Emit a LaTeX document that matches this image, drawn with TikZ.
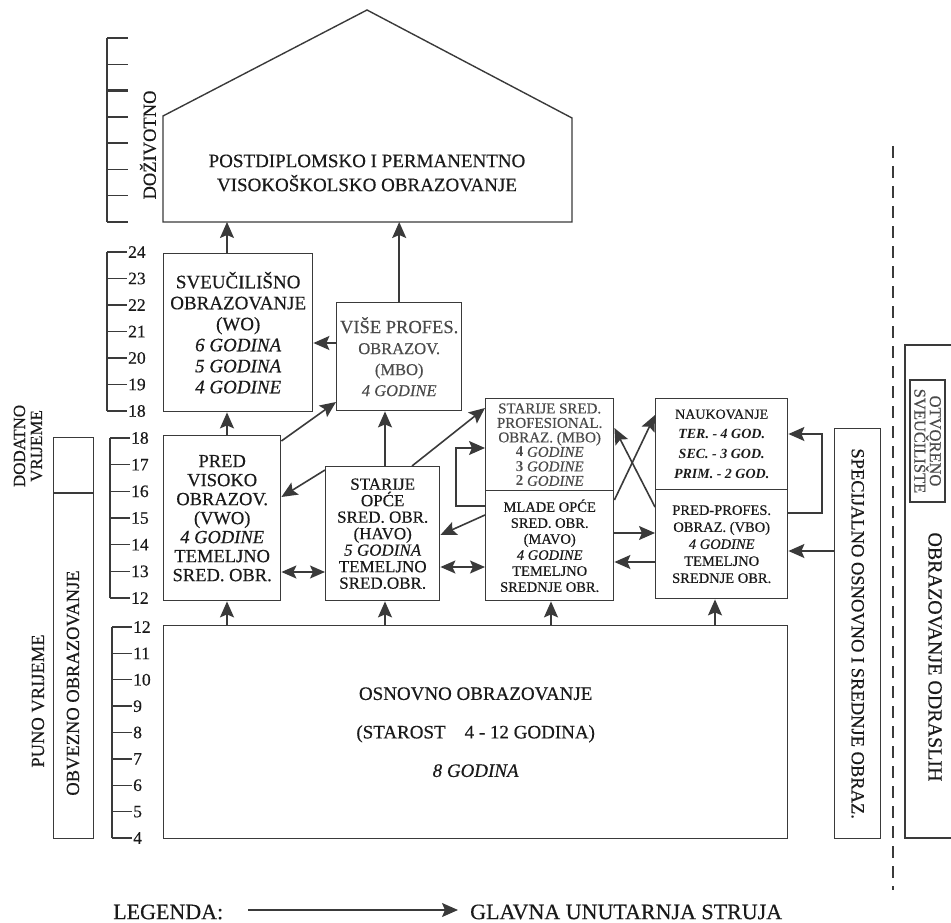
\documentclass[tikz,border=0pt]{standalone}
\usepackage{fontspec}
\setmainfont{Liberation Serif}[UprightFeatures={FakeBold=0.4},ItalicFeatures={FakeBold=0.4}]
\usetikzlibrary{arrows.meta,calc}
\definecolor{ln}{HTML}{3A3A3A}
\definecolor{tx}{HTML}{1A1A1A}
\definecolor{gt}{HTML}{4A4A4A}
\newcommand{\fs}[2]{\fontsize{#1}{#2}\selectfont}
\begin{document}
\begin{tikzpicture}[x=1pt,y=-1pt,
  box/.style={draw=ln, line width=1.4pt, fill=white, inner sep=0pt, align=center, anchor=north west, text=tx},
  lbl/.style={inner sep=0pt, align=center, text=tx},
  arr/.style={draw=ln, line width=1.6pt, -{Stealth[length=16pt,width=14pt,inset=3pt]}},
  dbl/.style={draw=ln, line width=1.6pt, {Stealth[length=15pt,width=13pt,inset=3pt]}-{Stealth[length=15pt,width=13pt,inset=3pt]}},
  scl/.style={draw=ln, line width=1.4pt},
  num/.style={inner sep=0pt, anchor=west, text=tx, font=\fs{17.5}{17.5}}
]
\useasboundingbox (0,0) rectangle (951,923);

% ---------- house ----------
\draw[ln, line width=1.4pt] (163,222) -- (163,116) -- (367,10) -- (572,118) -- (572,222) -- cycle;
\node[lbl, font=\fs{19}{24}] (house) at (367,173) {POSTDIPLOMSKO I PERMANENTNO\\VISOKOŠKOLSKO OBRAZOVANJE};
\coordinate (hb) at (367,222);
\node[lbl, rotate=90, font=\fs{18.5}{18.5}] (doz) at (148,145) {DOŽIVOTNO};

% ---------- boxes ----------
\node[box, minimum width=149, minimum height=158, font=\fs{19}{21}] (wo) at (163,253)
  {SVEUČILIŠNO\\OBRAZOVANJE\\(WO)\\\textit{6 GODINA}\\\textit{5 GODINA}\\\textit{4 GODINE}};
\node[box, minimum width=125, minimum height=108, font=\fs{16.5}{21}, text=gt] (vise) at (336,302)
  {{\fs{18.5}{21}VIŠE PROFES.}\\OBRAZOV.\\(MBO)\\\textit{4 GODINE}};
\node[box, minimum width=117, minimum height=165, font=\fs{18.5}{19}] (vwo) at (163,435)
  {PRED\\VISOKO\\OBRAZOV.\\(VWO)\\\textit{4 GODINE}\\TEMELJNO\\SRED. OBR.};
\node[box, minimum width=114, minimum height=134, font=\fs{17}{16.5}] (havo) at (325,466)
  {STARIJE\\OPĆE\\SRED. OBR.\\(HAVO)\\\textit{5 GODINA}\\TEMELJNO\\SRED.OBR.};
\node[box, minimum width=128, minimum height=92, font=\fs{15}{14.5}, text=gt] (mbo) at (485,398)
  {STARIJE SRED.\\PROFESIONAL.\\OBRAZ. (MBO)\\\textbf{4} \textit{GODINE}\\\textbf{3} \textit{GODINE}\\\textbf{2} \textit{GODINE}};
\node[box, minimum width=128, minimum height=110, font=\fs{14.5}{16}] (mavo) at (485,490)
  {MLADE OPĆE\\SRED. OBR.\\(MAVO)\\\textit{4 GODINE}\\TEMELJNO\\SREDNJE OBR.};
\node[box, minimum width=132, minimum height=91, font=\fs{14}{20}] (nauk) at (655,398)
  {NAUKOVANJE\\\textbf{\textit{TER. - 4 GOD.}}\\\textbf{\textit{SEC. - 3 GOD.}}\\\textbf{\textit{PRIM. - 2 GOD.}}};
\node[box, minimum width=132, minimum height=109, font=\fs{14.5}{17}] (vbo) at (655,489)
  {PRED-PROFES.\\OBRAZ. (VBO)\\\textit{4 GODINE}\\TEMELJNO\\SREDNJE OBR.};
\node[box, minimum width=624, minimum height=213, font=\fs{19}{38.5}] (osn) at (163,625)
  {OSNOVNO OBRAZOVANJE\\(STAROST\quad 4 - 12 GODINA)\\\textit{8 GODINA}};

% right side
\node[box, minimum width=46, minimum height=410] (spec) at (834,428) {};
\node[lbl, rotate=-90, font=\fs{18.5}{18.5}] (spect) at (spec.center) {SPECIJALNO OSNOVNO I SREDNJE OBRAZ.};
\coordinate (d1) at (893,146);
\coordinate (d2) at (893,890);
\draw[ln, line width=1.4pt, dash pattern=on 12pt off 8pt] (d1) -- (d2);
\coordinate (o1) at (955,345);
\coordinate (o2) at (905,345);
\coordinate (o3) at (905,838);
\coordinate (o4) at (955,838);
\draw[ln, line width=1.4pt] (o1) -- (o2) -- (o3) -- (o4);
\node[lbl, rotate=-90, font=\fs{20}{20}] (odr) at (935,657) {OBRAZOVANJE ODRASLIH};
\node[draw=ln, line width=1.2pt, rotate=-90, inner sep=1pt, minimum width=122, minimum height=35,
  align=center, text=gt, font=\fs{16.5}{15.5}] (otv) at (927.5,441) {OTVORENO\\SVEUČILIŠTE};

% left side
\node[box, minimum width=40, minimum height=401] (obv) at (53,437) {};
\draw[ln, line width=1.4pt] (obv.west |- 0,493) -- (obv.east |- 0,493);
\node[lbl, rotate=90, font=\fs{18.5}{18.5}] (obvt) at (73,683) {OBVEZNO OBRAZOVANJE};
\node[lbl, rotate=90, font=\fs{17}{17}] (dod) at (28,446) {DODATNO\\VRIJEME};
\node[lbl, rotate=90, font=\fs{18.5}{18.5}] (puno) at (38,701) {PUNO VRIJEME};

% ---------- scales ----------
\draw[scl] (107,38) -- (107,222);
\foreach \i in {0,...,7} { \draw[scl] (107,{38+26.29*\i}) -- (128,{38+26.29*\i}); }
\draw[ln, line width=2.4pt] (107,90.6) -- (128,90.6);
\draw[scl] (107,252) -- (107,411);
\foreach \i in {0,...,6} {
  \draw[scl] (107,{252+26.5*\i}) -- (127,{252+26.5*\i});
  \pgfmathtruncatemacro{\n}{24-\i}
  \node[num] at (128,{252+26.5*\i}) {\n};
}
\draw[scl] (110,438) -- (110,598);
\foreach \i in {0,...,6} {
  \draw[scl] (110,{438+26.67*\i}) -- (130,{438+26.67*\i});
  \pgfmathtruncatemacro{\n}{18-\i}
  \node[num] at (131,{438+26.67*\i}) {\n};
}
\draw[scl] (112,627) -- (112,838);
\foreach \i in {0,...,8} {
  \draw[scl] (112,{627+26.375*\i}) -- (132,{627+26.375*\i});
  \pgfmathtruncatemacro{\n}{12-\i}
  \node[num] at (133,{627+26.375*\i}) {\n};
}

% ---------- connectors ----------
\coordinate (cx1) at (227,0);
\draw[arr] (cx1 |- wo.north) -- (cx1 |- hb);
\draw[arr] (vise.north) -- (vise.north |- hb);
\draw[arr] (vise.west |- 0,343) -- (wo.east |- 0,343);
\draw[arr] (cx1 |- vwo.north) -- (cx1 |- wo.south);
\draw[arr] (vwo.east |- 0,441) -- (vise.west |- 0,402);
\draw[arr] (havo.north -| 385,0) -- (vise.south -| 385,0);
\draw[arr] (havo.west |- 0,470) -- (vwo.east |- 0,497);
\draw[dbl] (vwo.east |- 0,572) -- (havo.west |- 0,572);
\draw[arr] (havo.north -| 412,0) -- (mbo.west |- 0,408);
\draw[arr] (mavo.west |- 0,515) -- (havo.east |- 0,535);
\draw[dbl] (havo.east |- 0,567) -- (mavo.west |- 0,567);
\draw[arr] (mavo.west |- 0,506) -- (456,506) -- (456,448) -- (mbo.west |- 0,448);
\draw[arr] (mavo.east |- 0,500) -- (nauk.west |- 0,415);
\draw[arr] (vbo.west |- 0,507) -- (mbo.east |- 0,428);
\draw[arr] (mavo.east |- 0,533) -- (vbo.west |- 0,533);
\draw[arr] (vbo.west |- 0,562) -- (mavo.east |- 0,562);
\draw[arr] (vbo.east |- 0,513) -- (822,513) -- (822,434) -- (nauk.east |- 0,434);
\draw[arr] (spec.west |- 0,551) -- (vbo.east |- 0,551);
\draw[arr] (cx1 |- osn.north) -- (cx1 |- vwo.south);
\draw[arr] (osn.north -| 385,0) -- (havo.south -| 385,0);
\draw[arr] (osn.north -| 551,0) -- (mavo.south -| 551,0);
\draw[arr] (osn.north -| 715,0) -- (vbo.south -| 715,0);

% ---------- legend ----------
\node[lbl, anchor=west, font=\fs{22}{22}] (leg) at (113,912) {LEGENDA:};
\coordinate (la) at (248,910);
\node[lbl, anchor=west, font=\fs{22}{22}] (legt) at (470,912) {GLAVNA UNUTARNJA STRUJA};
\draw[arr] (la) -- ([xshift=-12pt]legt.west |- la);
\end{tikzpicture}
\end{document}
